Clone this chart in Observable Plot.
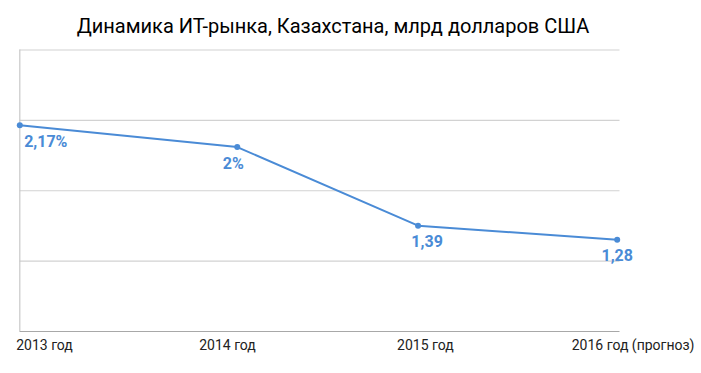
<!DOCTYPE html>
<html>
<head>
<meta charset="utf-8">
<script src="https://cdn.jsdelivr.net/npm/d3@7"></script>
<script src="https://cdn.jsdelivr.net/npm/@observablehq/plot@0.6"></script>
<style>
  html, body { margin: 0; padding: 0; background: #fff; }
  #wrap { position: relative; width: 701px; height: 373px; }
  #title { position: absolute; left: 0; top: 13px; width: 666px; text-align: center;
    font-family: Roboto, sans-serif; font-weight: 400; font-size: 20px; color: #000; line-height: 27px; }
</style>
</head>
<body>
<div id="wrap">
  <div id="title">Динамика ИТ-рынка, Казахстана, млрд долларов США</div>
  <div id="chart"></div>
</div>
<script>
// Data
const categories = ["2013 год", "2014 год", "2015 год", "2016 год (прогноз)"];
const values = [2.17, 2.0, 1.39, 1.28];
const valueLabels = ["2,17%", "2%", "1,39", "1,28"];

// Layout (positions on the category axis)
const pointPos = [0, 1.092, 2.0, 3.0];
const tickPos = [0.124, 1.043, 2.037, 3.08];
const labelDx = [26, -4, 9, 0];

const data = categories.map((c, i) => ({
  cat: c, v: values[i], label: valueLabels[i], x: pointPos[i], tx: tickPos[i], dx: labelDx[i]
}));

const yDomain = [0.568, 2.754];
const gridVals = d3.range(5).map(i => yDomain[0] + i * (yDomain[1] - yDomain[0]) / 4);

const blue = "#4a8bd6";

const chart = Plot.plot({
  width: 701,
  height: 373,
  marginTop: 49.5,
  marginBottom: 42,
  marginLeft: 19.5,
  marginRight: 81.5,
  style: { fontFamily: "Roboto, sans-serif", background: "transparent" },
  x: { type: "linear", domain: [0, 3], range: [19.3, 616.7], axis: null },
  y: { domain: yDomain, axis: null },
  marks: [
    Plot.ruleY(gridVals.slice(1), { stroke: "#d2d2d2", strokeWidth: 1.2 }),
    Plot.ruleX([0], { y1: yDomain[0], y2: yDomain[1], stroke: "#c8c8c8", strokeWidth: 1.2 }),
    Plot.ruleY([gridVals[0]], { stroke: "#a8a8a8", strokeWidth: 1.2 }),
    Plot.line(data, { x: "x", y: "v", stroke: blue, strokeWidth: 2 }),
    Plot.dot(data, { x: "x", y: "v", r: 3, fill: blue }),
    ...data.map(d => Plot.text([d], {
      x: "x", y: "v", text: "label", dx: d.dx, dy: 16.5,
      fill: blue, fontSize: 16, fontWeight: "bold"
    })),
    Plot.text(data, {
      x: "tx", y: () => yDomain[0], text: "cat", dy: 14,
      fill: "#222", fontSize: 14
    })
  ]
});
document.getElementById("chart").appendChild(chart);
</script>
</body>
</html>
